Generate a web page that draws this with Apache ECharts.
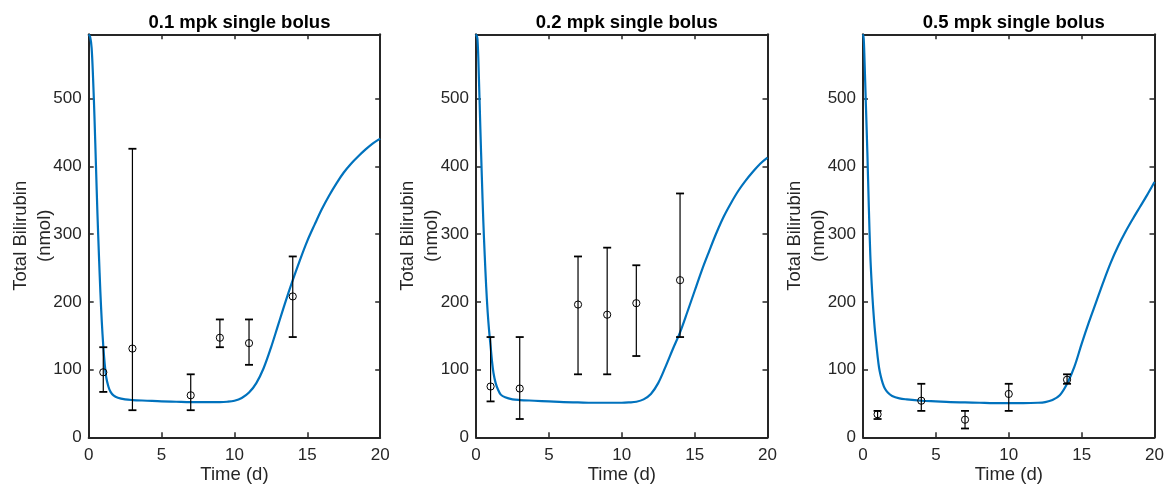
<!DOCTYPE html>
<html>
<head>
<meta charset="utf-8">
<script src="https://cdn.jsdelivr.net/npm/echarts@6/dist/echarts.min.js"></script>
<style>
html, body { margin: 0; padding: 0; background: #fff; }
#chart { width: 1164px; height: 484px; }
</style>
</head>
<body>
<div id="chart"></div>
<script>
// panel titles
const titles = ['0.1 mpk single bolus', '0.2 mpk single bolus', '0.5 mpk single bolus'];

// model curves (time in days, bilirubin in nmol)
const curveT1 = [0, 0.1, 0.2, 0.3, 0.4, 0.5, 0.6, 0.7, 0.8, 0.9, 1.0, 1.1, 1.2, 1.35, 1.5, 1.7, 2.0, 2.5, 3, 4, 5, 6, 7, 8, 9, 9.5, 10, 10.5, 11, 11.5, 12, 12.5, 13, 13.5, 14, 14.5, 15, 15.5, 16, 16.5, 17, 17.5, 18, 18.5, 19, 19.5, 20];
const curveV1 = [595, 591, 575, 530, 470, 400, 330, 270, 215, 170, 135, 108, 89, 75, 67, 62, 58.5, 56, 55, 54, 53, 52.5, 52, 52, 52, 52.5, 54, 58, 66, 80, 102, 132, 166, 200, 232, 262, 290, 314, 337, 357, 375, 391, 404, 415, 425, 434, 441];

const curveT2 = [0, 0.1, 0.2, 0.3, 0.4, 0.5, 0.6, 0.7, 0.8, 0.9, 1.0, 1.1, 1.2, 1.35, 1.5, 1.7, 2.0, 2.5, 3, 4, 5, 6, 7, 8, 9, 10, 10.5, 11, 11.5, 12, 12.5, 13, 13.5, 14, 14.5, 15, 15.5, 16, 16.5, 17, 17.5, 18, 18.5, 19, 19.5, 20];
const curveV2 = [595, 588, 530, 455, 385, 320, 268, 222, 185, 157, 135, 112, 95, 80, 71, 63, 59, 56, 55, 54, 53, 52, 51.5, 51, 51, 51, 51.5, 52.5, 56, 64, 80, 104, 130, 155, 185, 216, 247, 275, 302, 326, 346, 364, 379, 392, 404, 413, 420];

const curveT3 = [0, 0.05, 0.1, 0.2, 0.3, 0.4, 0.5, 0.6, 0.7, 0.8, 0.9, 1.0, 1.1, 1.2, 1.35, 1.5, 1.7, 2.0, 2.5, 3, 4, 5, 6, 7, 8, 9, 10, 11, 12, 12.5, 13, 13.5, 14, 14.5, 15, 15.5, 16, 16.5, 17, 17.5, 18, 18.5, 19, 19.5, 20];
const curveV3 = [595, 588, 560, 490, 420, 340, 270, 225, 190, 162, 140, 120, 103, 92, 80, 72, 66, 61, 57.5, 56, 54, 53, 52, 51.5, 51, 50.5, 50.5, 50.5, 51, 52, 55, 62, 79, 104, 138, 170, 200, 230, 258, 282, 303, 322, 340, 358, 377];

// observed data: time, mean, lower and upper error bar ends
const obsT1 = [1, 3, 7, 9, 11, 14];
const obsMean1 = [96, 131, 62, 147, 139, 208];
const obsLow1 = [67, 40, 40, 133, 107, 148];
const obsHigh1 = [133, 426, 93, 174, 174, 267];

const obsT2 = [1, 3, 7, 9, 11, 14];
const obsMean2 = [75, 72, 196, 181, 198, 232];
const obsLow2 = [53, 27, 93, 93, 120, 148];
const obsHigh2 = [148, 148, 267, 280, 254, 360];

const obsT3 = [1, 4, 7, 10, 14];
const obsMean3 = [34, 54, 26, 64, 85];
const obsLow3 = [27, 39, 13, 39, 79];
const obsHigh3 = [39, 79, 39, 79, 93];

const yTicks = [0, 100, 200, 300, 400, 500];

const curves = [[curveT1, curveV1], [curveT2, curveV2], [curveT3, curveV3]];
const obs = [
    [obsT1, obsMean1, obsLow1, obsHigh1],
    [obsT2, obsMean2, obsLow2, obsHigh2],
    [obsT3, obsMean3, obsLow3, obsHigh3]
];

const FONT = '"Liberation Sans", Arial, Helvetica, sans-serif';
const AX = '#262626';
const gridLeft = [88.7, 476, 863];
const gridW = 291.5;
const gridTop = 34.3;
const gridH = 403;
const yMax = 595;

function renderErr(params, api) {
    const t = api.value(0);
    const pm = api.coord([t, api.value(1)]);
    const pl = api.coord([t, api.value(2)]);
    const ph = api.coord([t, api.value(3)]);
    const cw = 4;
    return {
        type: 'group',
        children: [
            { type: 'line', shape: { x1: pl[0], y1: pl[1], x2: ph[0], y2: ph[1] }, style: { stroke: '#000', lineWidth: 1.2 } },
            { type: 'line', shape: { x1: pl[0] - cw, y1: pl[1], x2: pl[0] + cw, y2: pl[1] }, style: { stroke: '#000', lineWidth: 1.8 } },
            { type: 'line', shape: { x1: ph[0] - cw, y1: ph[1], x2: ph[0] + cw, y2: ph[1] }, style: { stroke: '#000', lineWidth: 1.8 } },
            { type: 'circle', shape: { cx: pm[0], cy: pm[1], r: 3.6 }, style: { stroke: '#000', fill: 'none', lineWidth: 1 } }
        ]
    };
}

const grid = [], xAxis = [], yAxis = [], series = [], title = [];

for (let i = 0; i < 3; i++) {
    grid.push({ left: gridLeft[i], top: gridTop, width: gridW, height: gridH, outerBoundsMode: 'none' });
    title.push({
        text: titles[i],
        left: gridLeft[i] + gridW / 2,
        top: 8,
        textAlign: 'center',
        textStyle: { fontFamily: FONT, fontSize: 18.5, fontWeight: 'bold', color: '#000' }
    });
    const axLine = { show: true, onZero: false, lineStyle: { color: AX, width: 2 } };
    const tick = { show: true, inside: true, length: 5, lineStyle: { color: AX, width: 1.5 } };
    xAxis.push({
        gridIndex: i, type: 'value', min: 0, max: 20, interval: 5, position: 'bottom',
        axisLine: axLine, axisTick: tick, splitLine: { show: false },
        axisLabel: { color: AX, fontSize: 17, fontFamily: FONT, margin: 10 },
        name: 'Time (d)', nameLocation: 'middle', nameGap: 28, nameMoveOverlap: false,
        nameTextStyle: { color: AX, fontSize: 18.5, fontFamily: FONT }
    });
    xAxis.push({
        gridIndex: i, type: 'value', min: 0, max: 20, interval: 5, position: 'top',
        axisLine: axLine, axisTick: tick, splitLine: { show: false }, axisLabel: { show: false }
    });
    yAxis.push({
        gridIndex: i, type: 'value', min: 0, max: yMax, interval: 100, position: 'left',
        axisLine: axLine, axisTick: tick, splitLine: { show: false },
        axisLabel: {
            color: AX, fontSize: 17, fontFamily: FONT, margin: 7,
            formatter: v => (yTicks.indexOf(v) >= 0 ? String(v) : '')
        },
        name: 'Total Bilirubin\n(nmol)', nameLocation: 'middle', nameGap: 32, nameMoveOverlap: false,
        nameTextStyle: { color: AX, fontSize: 18.5, fontFamily: FONT, lineHeight: 24 }
    });
    yAxis.push({
        gridIndex: i, type: 'value', min: 0, max: yMax, interval: 100, position: 'right',
        axisLine: axLine, axisTick: tick, splitLine: { show: false }, axisLabel: { show: false }
    });

    const [ct, cv] = curves[i];
    series.push({
        type: 'line', xAxisIndex: 2 * i, yAxisIndex: 2 * i,
        data: ct.map((t, k) => [t, cv[k]]),
        showSymbol: false, smooth: 0.35,
        lineStyle: { color: '#0072BD', width: 2.2 }, z: 2, silent: true
    });
    const [ot, om, ol, oh] = obs[i];
    series.push({
        type: 'custom', xAxisIndex: 2 * i, yAxisIndex: 2 * i,
        data: ot.map((t, k) => [t, om[k], ol[k], oh[k]]),
        encode: { x: 0, y: [1, 2, 3] },
        renderItem: renderErr, z: 3, silent: true
    });
}

const chart = echarts.init(document.getElementById('chart'));
chart.setOption({
    animation: false,
    backgroundColor: '#fff',
    textStyle: { fontFamily: FONT },
    title, grid, xAxis, yAxis, series
});
</script>
</body>
</html>
